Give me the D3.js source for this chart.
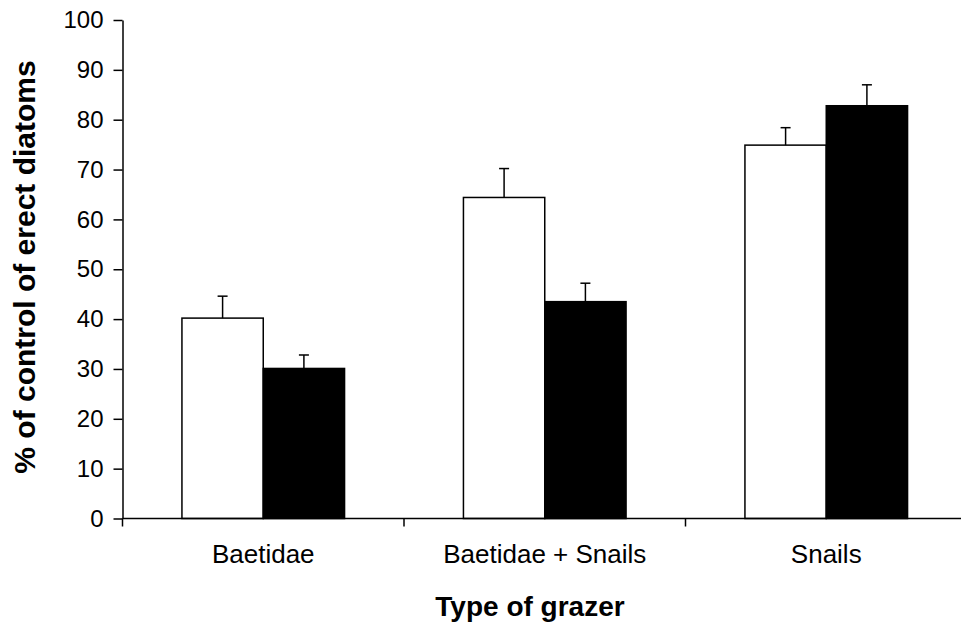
<!DOCTYPE html>
<html>
<head>
<meta charset="utf-8">
<script src="https://cdn.jsdelivr.net/npm/d3@7"></script>
<style>
  html, body { margin: 0; padding: 0; background: #fff; }
  svg { display: block; font-family: "Liberation Sans", Arial, sans-serif; }
</style>
</head>
<body>
<svg id="chart" width="961" height="626"></svg>
<script>
// Grazer treatments and the two measured series (white and black bars)
const categories = ["Baetidae", "Baetidae + Snails", "Snails"];
const seriesNames = ["open", "filled"];
const openValues = [40.2, 64.4, 74.9];
const openErrors = [4.4, 5.8, 3.5];
const filledValues = [30.1, 43.5, 82.8];
const filledErrors = [2.7, 3.7, 4.2];
const yTicks = [0, 10, 20, 30, 40, 50, 60, 70, 80, 90, 100];

const series = [
  { name: "open", values: openValues, errors: openErrors, fill: "#ffffff" },
  { name: "filled", values: filledValues, errors: filledErrors, fill: "#000000" }
];

const svg = d3.select("#chart");
const plotLeft = 122.5, plotRight = 967, plotTop = 20, plotBottom = 518.5;

const x0 = d3.scaleBand().domain(categories).range([plotLeft, plotRight]).padding(0);
const x1 = d3.scaleBand().domain(seriesNames)
  .range([0, x0.bandwidth()]).paddingInner(0).paddingOuter(0.731);
const y = d3.scaleLinear().domain([0, 100]).range([plotBottom, plotTop]);

// Bars
categories.forEach((cat, i) => {
  series.forEach(s => {
    const bx = x0(cat) + x1(s.name);
    svg.append("rect")
      .attr("x", bx)
      .attr("y", y(s.values[i]))
      .attr("width", x1.bandwidth())
      .attr("height", y(0) - y(s.values[i]))
      .attr("fill", s.fill)
      .attr("stroke", "#000")
      .attr("stroke-width", 1.5);
  });
});

// Error bars (upper only)
categories.forEach((cat, i) => {
  series.forEach(s => {
    const cx = x0(cat) + x1(s.name) + x1.bandwidth() / 2;
    const yTop = y(s.values[i] + s.errors[i]);
    svg.append("line")
      .attr("x1", cx).attr("x2", cx)
      .attr("y1", y(s.values[i])).attr("y2", yTop)
      .attr("stroke", "#000").attr("stroke-width", 1.5);
    svg.append("line")
      .attr("x1", cx - 5).attr("x2", cx + 5)
      .attr("y1", yTop).attr("y2", yTop)
      .attr("stroke", "#000").attr("stroke-width", 1.5);
  });
});

// Y axis
const yAxis = d3.axisLeft(y).tickValues(yTicks).tickSize(9).tickPadding(10).tickSizeOuter(0);
const gy = svg.append("g").attr("transform", `translate(${plotLeft},0)`).call(yAxis);
gy.select(".domain").attr("stroke", "#000").attr("stroke-width", 1.5);
gy.selectAll(".tick line").attr("stroke", "#000").attr("stroke-width", 1.5);
gy.selectAll(".tick text").attr("font-size", 24).attr("fill", "#000")
  .attr("font-family", "Liberation Sans, Arial, sans-serif");

// X axis: ticks at group boundaries, labels centred under each group
const boundaries = categories.map(c => x0(c)).concat([x0(categories[categories.length - 1]) + x0.bandwidth()]);
svg.append("line")
  .attr("x1", plotLeft).attr("x2", plotRight)
  .attr("y1", plotBottom).attr("y2", plotBottom)
  .attr("stroke", "#000").attr("stroke-width", 1.5);
svg.selectAll(".xtick").data(boundaries).enter().append("line")
  .attr("x1", d => d).attr("x2", d => d)
  .attr("y1", plotBottom).attr("y2", plotBottom + 8)
  .attr("stroke", "#000").attr("stroke-width", 1.5);
svg.selectAll(".xlabel").data(categories).enter().append("text")
  .attr("x", d => x0(d) + x0.bandwidth() / 2)
  .attr("y", 563)
  .attr("text-anchor", "middle")
  .attr("font-size", 26)
  .attr("fill", "#000")
  .text(d => d);

// Axis titles
svg.append("text")
  .attr("x", 530).attr("y", 616)
  .attr("text-anchor", "middle")
  .attr("font-size", 28).attr("font-weight", "bold")
  .text("Type of grazer");

svg.append("text")
  .attr("transform", "translate(35,267) rotate(-90)")
  .attr("text-anchor", "middle")
  .attr("font-size", 30).attr("font-weight", "bold")
  .text("% of control of erect diatoms");
</script>
</body>
</html>
